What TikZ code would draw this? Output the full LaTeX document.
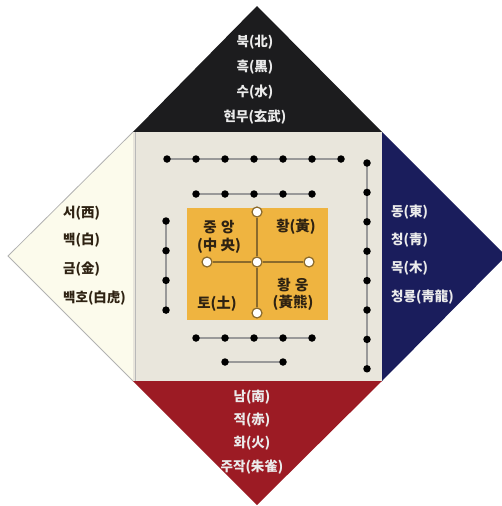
\documentclass[tikz,border=0pt]{standalone}
\usepackage{fontspec}
\newfontfamily\kr{Noto Sans CJK KR}

\definecolor{northblack}{HTML}{1C1C1E}
\definecolor{eastnavy}{HTML}{1A1D5C}
\definecolor{southred}{HTML}{9C1B24}
\definecolor{westcream}{HTML}{FCFBEC}
\definecolor{centerbeige}{HTML}{E9E6DC}
\definecolor{centeryellow}{HTML}{EFB440}
\definecolor{crossbrown}{HTML}{8A6A2C}
\definecolor{darktext}{HTML}{2E2212}

\begin{document}
\begin{tikzpicture}[x=1pt, y=-1pt,
  bead/.style={circle, fill=black, inner sep=0pt, minimum size=7.5pt},
  ring/.style={circle, draw=crossbrown, line width=1.2pt, fill=white, inner sep=0pt, minimum size=10pt},
  string/.style={draw=gray!80, line width=1.2pt},
  word/.style={font=\kr\bfseries\fontsize{13.5}{13.5}\selectfont, inner sep=0pt},
  lightword/.style={word, text=white!92!black},
  darkword/.style={word, text=darktext},
  midword/.style={darkword, font=\kr\bfseries\fontsize{14.5}{14.5}\selectfont}]
  % canvas
  \useasboundingbox (0,0) rectangle (502,506);

  % Four directions around the centre square
  \coordinate (apexN) at (257,6);
  \coordinate (apexE) at (506,256);
  \coordinate (apexS) at (257,505);
  \coordinate (apexW) at (8,256);
  \coordinate (sqNW) at (133,132);
  \coordinate (sqNE) at (382,132);
  \coordinate (sqSE) at (382,381);
  \coordinate (sqSW) at (133,381);

  \fill[westcream] (apexW) -- (sqNW) -- (sqSW) -- cycle;
  \draw[gray!60, line width=0.8pt] (sqNW) -- (apexW) -- (sqSW);
  \fill[northblack] (apexN) -- (sqNE) -- (sqNW) -- cycle;
  \fill[eastnavy] (apexE) -- (sqSE) -- (sqNE) -- cycle;
  \fill[southred] (apexS) -- (sqSW) -- (sqSE) -- cycle;

  % Centre square
  \fill[centerbeige] (sqNW) rectangle (sqSE);
  \draw[gray!55, line width=1pt] (135,132) -- (135,381);

  % North
  \node[lightword] (north1) at (255,42) {북(北)};
  \node[lightword] (north2) at (255,67) {흑(黑)};
  \node[lightword] (north3) at (255,92) {수(水)};
  \node[lightword] (north4) at (255,117) {현무(玄武)};

  % East
  \node[lightword, anchor=west] (east1) at (391,212) {동(東)};
  \node[lightword, anchor=west] (east2) at (391,240) {청(靑)};
  \node[lightword, anchor=west] (east3) at (391,268) {목(木)};
  \node[lightword, anchor=west] (east4) at (391,297) {청룡(靑龍)};

  % South
  \node[lightword] (south1) at (252,397) {남(南)};
  \node[lightword] (south2) at (252,420) {적(赤)};
  \node[lightword] (south3) at (252,443) {화(火)};
  \node[lightword] (south4) at (252,467) {주작(朱雀)};

  % West
  \node[darkword, anchor=west] (west1) at (63,213) {서(西)};
  \node[darkword, anchor=west] (west2) at (63,240) {백(白)};
  \node[darkword, anchor=west] (west3) at (63,269) {금(金)};
  \node[darkword, anchor=west] (west4) at (63,298) {백호(白虎)};

  % Bead rows: places first, strings, then beads on top
  \foreach \i in {0,...,6}
    \coordinate (topA\i) at ({167+29*\i},159);
  \foreach \i in {0,...,4}
    \coordinate (topB\i) at ({196+29*\i},194);
  \foreach \i in {0,...,7}
    \coordinate (rightC\i) at (367,{163+29.4*\i});
  \foreach \i in {0,...,3}
    \coordinate (leftC\i) at (166,{221+29.7*\i});
  \foreach \i in {0,...,4}
    \coordinate (botA\i) at ({196+29*\i},338);
  \coordinate (botB0) at (225,362);
  \coordinate (botB1) at (283,362);

  \path[string] (topA0) -- (topA6);
  \path[string] (topB0) -- (topB4);
  \path[string] (rightC0) -- (rightC7);
  \path[string] (leftC0) -- (leftC3);
  \path[string] (botA0) -- (botA4);
  \path[string] (botB0) -- (botB1);

  \foreach \i in {0,...,6} \node[bead] at (topA\i) {};
  \foreach \i in {0,...,4} \node[bead] at (topB\i) {};
  \foreach \i in {0,...,7} \node[bead] at (rightC\i) {};
  \foreach \i in {0,...,3} \node[bead] at (leftC\i) {};
  \foreach \i in {0,...,4} \node[bead] at (botA\i) {};
  \foreach \i in {0,1} \node[bead] at (botB\i) {};

  % Centre (yellow)
  \fill[centeryellow] (187,208) rectangle (328,320);
  \node[ring] (crossC) at (257,262) {};
  \node[ring] (crossN) at (257,212) {};
  \node[ring] (crossS) at (257,313) {};
  \node[ring] (crossW) at (207,262) {};
  \node[ring] (crossE) at (309,262) {};
  \draw[crossbrown, line width=1.3pt] (crossN) -- (crossC) -- (crossS);
  \draw[crossbrown, line width=1.3pt] (crossW) -- (crossC) -- (crossE);

  \node[midword] (mid1) at (219,227) {중\hspace{0.3em}앙};
  \node[midword] (mid2) at (219,246) {(中 央)};
  \node[midword] (mid3) at (296,227) {황(黃)};
  \node[midword] (mid4) at (293,285) {황\hspace{0.3em}웅};
  \node[midword] (mid5) at (293,303) {(黃熊)};
  \node[midword] (mid6) at (217,304) {토(土)};
\end{tikzpicture}
\end{document}
